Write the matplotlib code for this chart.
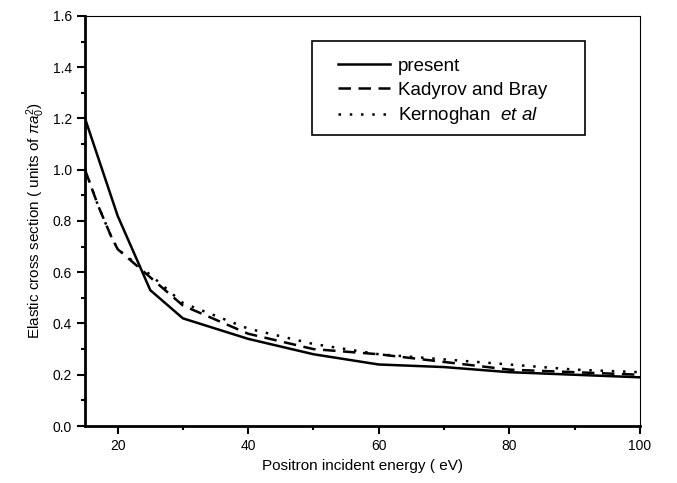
import matplotlib
matplotlib.use("Agg")
import matplotlib.pyplot as plt
from matplotlib.patches import Rectangle
from matplotlib.ticker import MultipleLocator

plt.rcParams['font.family'] = ['Liberation Sans', 'DejaVu Sans']
plt.rcParams['mathtext.fontset'] = 'custom'
plt.rcParams['mathtext.rm'] = 'Liberation Sans'
plt.rcParams['mathtext.it'] = 'Liberation Sans:italic'

# energies (eV) and cross sections (units of pi a0^2)
e_present = [15, 20, 25, 30, 40, 50, 60, 70, 80, 90, 100]
present = [1.20, 0.82, 0.53, 0.42, 0.34, 0.28, 0.24, 0.23, 0.21, 0.20, 0.19]

e_kb = [15, 17, 19, 20, 25, 30, 40, 50, 60, 70, 80, 90, 100]
kadyrov = [1.00, 0.86, 0.74, 0.69, 0.58, 0.47, 0.36, 0.30, 0.28, 0.25, 0.22, 0.21, 0.20]

e_ke = [15, 17, 19, 20, 25, 30, 40, 50, 60, 70, 80, 90, 100]
kernoghan = [1.00, 0.86, 0.74, 0.69, 0.59, 0.48, 0.38, 0.32, 0.28, 0.26, 0.24, 0.22, 0.21]

fig = plt.figure(figsize=(6.77, 4.83), dpi=100)
ax = fig.add_axes([0.1256, 0.118, 0.8194, 0.849])

ax.plot(e_present, present, 'k-', lw=1.8, label='present')
ax.plot(e_kb, kadyrov, 'k', ls=(0, (5, 3)), lw=1.8, label='Kadyrov and Bray')
ax.plot(e_ke, kernoghan, 'k', ls=(0, (1, 3.5)), lw=1.8, label='Kernoghan  $\\it{et\\ al}$')

ax.set_xlim(15, 100)
ax.set_ylim(0, 1.6)
ax.xaxis.set_major_locator(MultipleLocator(20))
ax.xaxis.set_minor_locator(MultipleLocator(10))
ax.yaxis.set_major_locator(MultipleLocator(0.2))
ax.yaxis.set_minor_locator(MultipleLocator(0.1))
ax.yaxis.set_major_formatter(matplotlib.ticker.FormatStrFormatter('%.1f'))
ax.tick_params(which='major', length=6, width=1.5, labelsize=10)
ax.tick_params(which='minor', length=3, width=1.5)

for s in ['left', 'bottom']:
    ax.spines[s].set_linewidth(2)
for s in ['top', 'right']:
    ax.spines[s].set_linewidth(0.8)

ax.set_xlabel('Positron incident energy ( eV)', fontsize=11)
ax.set_ylabel('Elastic cross section ( units of $\\pi a_0^2$)', fontsize=11)

# legend box drawn separately so it can be wider than the entries
ax.add_patch(Rectangle((0.409, 0.710), 0.492, 0.229, transform=ax.transAxes,
                       fill=True, facecolor='white', edgecolor='k', lw=1.2, zorder=4))
leg = ax.legend(loc='upper left', bbox_to_anchor=(0.456, 0.898), fontsize=13.5,
                frameon=False, handlelength=2.8, handletextpad=0.4,
                borderpad=0, labelspacing=0.35, borderaxespad=0)
leg.set_zorder(5)

fig.savefig('out.png', dpi=100)
